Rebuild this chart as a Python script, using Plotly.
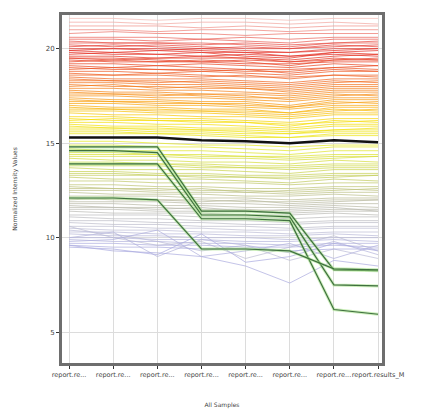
import plotly.graph_objects as go

samples = ["report.re...", "report.re...", "report.re...", "report.re...",
           "report.re...", "report.re...", "report.re...", "report.results_M"]
y_ticks = [5, 10, 15, 20]

top_profiles = [
    [21.6, 21.6, 21.5, 21.6, 21.6, 21.5, 21.6, 21.6],
    [21.4, 21.4, 21.3, 21.4, 21.4, 21.3, 21.4, 21.3],
    [21.2, 21.2, 21.2, 21.1, 21.2, 21.1, 21.2, 21.2],
    [21.0, 21.0, 20.9, 21.0, 21.0, 20.9, 21.0, 21.0],
    [20.8, 20.9, 20.8, 20.8, 20.7, 20.8, 20.8, 20.8],
]
red_profiles = [
    [20.6, 20.6, 20.6, 20.5, 20.6, 20.5, 20.6, 20.6],
    [20.5, 20.5, 20.4, 20.5, 20.4, 20.3, 20.5, 20.5],
    [20.4, 20.3, 20.3, 20.3, 20.2, 20.1, 20.3, 20.3],
    [20.3, 20.3, 20.3, 20.2, 20.3, 20.2, 20.3, 20.4],
    [20.2, 20.1, 20.2, 20.1, 20.0, 20.0, 20.2, 20.1],
    [20.1, 20.2, 20.1, 20.0, 20.1, 20.0, 20.1, 20.2],
    [20.0, 20.0, 19.9, 20.0, 19.9, 19.8, 20.0, 20.0],
    [19.9, 20.0, 20.0, 19.9, 19.8, 19.8, 19.9, 20.0],
    [19.9, 19.8, 19.9, 19.8, 19.8, 19.6, 19.8, 19.9],
    [19.8, 19.7, 19.7, 19.6, 19.7, 19.6, 19.7, 19.6],
    [19.7, 19.8, 19.7, 19.8, 19.6, 19.5, 19.8, 19.7],
    [19.6, 19.6, 19.5, 19.6, 19.5, 19.4, 19.6, 19.7],
    [19.5, 19.4, 19.5, 19.5, 19.5, 19.3, 19.4, 19.5],
    [19.5, 19.5, 19.4, 19.3, 19.4, 19.3, 19.5, 19.4],
    [19.4, 19.3, 19.3, 19.3, 19.2, 19.2, 19.3, 19.3],
    [19.3, 19.4, 19.3, 19.4, 19.3, 19.1, 19.4, 19.4],
    [19.2, 19.2, 19.1, 19.2, 19.1, 19.0, 19.2, 19.1],
    [19.1, 19.0, 19.1, 19.0, 18.9, 18.9, 19.0, 19.1],
    [19.0, 18.9, 18.9, 18.8, 18.9, 18.7, 18.9, 18.8],
    [18.9, 19.0, 18.9, 18.9, 18.8, 18.8, 19.0, 18.9],
    [18.8, 18.8, 18.7, 18.8, 18.7, 18.6, 18.8, 18.8],
    [18.7, 18.6, 18.7, 18.6, 18.5, 18.5, 18.6, 18.6],
    [18.6, 18.6, 18.6, 18.5, 18.6, 18.4, 18.6, 18.5],
]
orange_profiles = [
    [18.5, 18.4, 18.4, 18.4, 18.3, 18.2, 18.4, 18.4],
    [18.4, 18.3, 18.2, 18.3, 18.2, 18.1, 18.3, 18.2],
    [18.3, 18.3, 18.3, 18.2, 18.1, 18.0, 18.2, 18.3],
    [18.2, 18.2, 18.1, 18.1, 18.0, 17.9, 18.1, 18.1],
    [18.1, 18.0, 18.0, 17.9, 17.9, 17.8, 18.0, 18.0],
    [18.0, 18.1, 17.9, 18.0, 17.9, 17.7, 17.9, 17.9],
    [17.9, 17.9, 17.8, 17.8, 17.7, 17.6, 17.8, 17.8],
    [17.8, 17.7, 17.7, 17.6, 17.6, 17.5, 17.7, 17.7],
    [17.7, 17.6, 17.5, 17.6, 17.5, 17.3, 17.5, 17.6],
    [17.6, 17.6, 17.6, 17.5, 17.4, 17.4, 17.6, 17.5],
    [17.5, 17.5, 17.4, 17.4, 17.3, 17.2, 17.4, 17.4],
    [17.4, 17.3, 17.3, 17.2, 17.2, 17.0, 17.3, 17.3],
    [17.3, 17.2, 17.1, 17.1, 17.0, 16.9, 17.1, 17.2],
    [17.2, 17.2, 17.2, 17.1, 17.1, 16.9, 17.2, 17.1],
    [17.1, 17.1, 17.0, 17.0, 16.9, 16.8, 17.0, 17.0],
    [17.0, 16.9, 16.9, 16.8, 16.8, 16.6, 16.9, 16.9],
    [16.9, 16.8, 16.7, 16.7, 16.6, 16.5, 16.7, 16.8],
    [16.8, 16.8, 16.8, 16.7, 16.7, 16.6, 16.8, 16.7],
    [16.7, 16.7, 16.6, 16.6, 16.5, 16.4, 16.6, 16.6],
]
yellow_profiles = [
    [16.6, 16.5, 16.5, 16.4, 16.4, 16.3, 16.5, 16.5],
    [16.4, 16.4, 16.3, 16.3, 16.2, 16.1, 16.3, 16.3],
    [16.3, 16.2, 16.2, 16.1, 16.1, 15.9, 16.2, 16.1],
    [16.2, 16.3, 16.2, 16.2, 16.1, 16.0, 16.1, 16.2],
    [16.1, 16.1, 16.0, 16.0, 15.9, 15.8, 16.0, 16.0],
    [16.0, 15.9, 15.9, 15.8, 15.8, 15.7, 15.9, 15.9],
    [15.9, 15.8, 15.8, 15.7, 15.7, 15.6, 15.7, 15.8],
    [15.8, 15.8, 15.7, 15.7, 15.6, 15.5, 15.7, 15.7],
    [15.7, 15.7, 15.6, 15.6, 15.5, 15.5, 15.6, 15.6],
    [15.6, 15.6, 15.5, 15.5, 15.4, 15.3, 15.5, 15.5],
    [15.5, 15.5, 15.5, 15.4, 15.3, 15.3, 15.4, 15.4],
]
lime_profiles = [
    [15.1, 15.1, 15.0, 14.9, 14.9, 14.8, 14.9, 14.9],
    [14.9, 14.9, 14.8, 14.8, 14.7, 14.6, 14.8, 14.8],
    [14.7, 14.6, 14.6, 14.6, 14.5, 14.4, 14.6, 14.6],
    [14.5, 14.5, 14.4, 14.4, 14.3, 14.3, 14.4, 14.4],
    [14.4, 14.4, 14.4, 14.3, 14.3, 14.2, 14.3, 14.3],
    [14.3, 14.3, 14.3, 14.2, 14.2, 14.1, 14.2, 14.3],
    [14.2, 14.1, 14.1, 14.0, 14.0, 13.9, 14.1, 14.0],
    [14.0, 14.0, 13.9, 13.9, 13.8, 13.8, 13.9, 13.9],
    [13.9, 13.9, 13.9, 13.8, 13.7, 13.7, 13.8, 13.8],
    [13.8, 13.8, 13.8, 13.7, 13.7, 13.6, 13.7, 13.7],
    [13.7, 13.6, 13.6, 13.6, 13.5, 13.4, 13.6, 13.6],
    [13.5, 13.5, 13.4, 13.4, 13.3, 13.3, 13.4, 13.4],
    [13.4, 13.4, 13.3, 13.3, 13.2, 13.2, 13.3, 13.3],
    [13.3, 13.3, 13.3, 13.2, 13.2, 13.1, 13.2, 13.3],
    [13.2, 13.1, 13.1, 13.1, 13.0, 12.9, 13.1, 13.0],
    [13.0, 13.0, 12.9, 12.9, 12.9, 12.8, 12.9, 12.9],
]
olive_profiles = [
    [12.8, 12.8, 12.7, 12.7, 12.6, 12.6, 12.7, 12.7],
    [12.7, 12.6, 12.6, 12.5, 12.5, 12.4, 12.5, 12.6],
    [12.6, 12.6, 12.5, 12.6, 12.4, 12.5, 12.6, 12.5],
    [12.5, 12.5, 12.4, 12.4, 12.4, 12.3, 12.4, 12.4],
    [12.4, 12.3, 12.3, 12.3, 12.2, 12.2, 12.3, 12.2],
    [12.2, 12.2, 12.2, 12.1, 12.1, 12.0, 12.1, 12.1],
    [12.1, 12.0, 12.0, 12.0, 11.9, 11.9, 12.0, 12.0],
    [12.0, 12.1, 12.0, 11.9, 12.0, 11.8, 11.9, 12.0],
    [11.9, 11.9, 11.9, 11.8, 11.8, 11.7, 11.8, 11.8],
    [11.8, 11.8, 11.7, 11.7, 11.6, 11.6, 11.7, 11.6],
    [11.7, 11.6, 11.6, 11.5, 11.5, 11.4, 11.5, 11.5],
    [11.6, 11.6, 11.5, 11.6, 11.4, 11.5, 11.6, 11.4],
    [11.5, 11.5, 11.4, 11.4, 11.4, 11.3, 11.4, 11.4],
    [11.4, 11.3, 11.3, 11.3, 11.2, 11.2, 11.3, 11.2],
    [11.2, 11.2, 11.2, 11.1, 11.1, 11.0, 11.1, 11.1],
]
lavender_profiles = [
    [11.1, 11.0, 11.0, 10.9, 10.9, 10.8, 10.9, 10.9],
    [10.9, 10.9, 10.8, 10.8, 10.7, 10.7, 10.8, 10.8],
    [10.8, 10.7, 10.7, 10.6, 10.6, 10.5, 10.6, 10.6],
    [10.6, 10.6, 10.5, 10.5, 10.4, 10.4, 10.5, 10.5],
    [10.6, 10.0, 9.6, 9.8, 8.9, 9.5, 10.1, 9.3],
    [10.5, 10.4, 10.4, 10.3, 10.3, 10.2, 10.3, 10.3],
    [10.4, 10.2, 9.8, 9.3, 9.6, 8.8, 9.4, 8.9],
    [10.3, 10.3, 10.2, 10.2, 10.1, 10.1, 10.2, 10.1],
    [10.2, 10.1, 10.1, 10.0, 10.0, 9.9, 10.0, 10.0],
    [10.0, 10.0, 9.9, 9.9, 9.8, 9.8, 9.9, 9.8],
    [10.0, 10.3, 9.0, 9.9, 9.6, 9.2, 9.8, 9.1],
    [9.9, 9.8, 9.8, 9.7, 9.7, 9.6, 9.7, 9.7],
    [9.8, 9.9, 10.4, 9.0, 9.3, 9.7, 8.9, 9.6],
    [9.7, 9.7, 9.6, 9.6, 9.5, 9.5, 9.6, 9.5],
    [9.6, 9.3, 9.2, 9.0, 8.5, 7.6, 8.8, 8.5],
    [9.6, 9.5, 9.5, 9.4, 9.4, 9.3, 9.4, 9.4],
    [9.5, 9.4, 9.1, 10.2, 8.7, 9.0, 9.7, 9.3],
]
green_profiles = [
    [14.8, 14.8, 14.8, 11.4, 11.4, 11.3, 8.3, 8.25],
    [14.6, 14.6, 14.5, 11.2, 11.2, 11.1, 7.5, 7.45],
    [13.9, 13.9, 13.9, 11.0, 11.0, 10.9, 6.2, 5.95],
    [12.1, 12.1, 12.0, 9.4, 9.4, 9.3, 8.35, 8.3],
]
black_profile = [15.3, 15.3, 15.3, 15.15, 15.1, 15.0, 15.15, 15.05]

# colour ramp (value -> rgb), blue-grey to yellow to red
ramp = [
    (9.0, (160, 160, 230)), (10.5, (190, 190, 215)), (12.0, (185, 185, 160)),
    (13.3, (195, 205, 90)), (15.0, (230, 235, 30)), (16.3, (248, 220, 0)),
    (17.2, (250, 160, 10)), (18.5, (242, 100, 30)), (19.8, (228, 40, 30)),
    (20.9, (238, 120, 110)), (21.7, (246, 195, 190)),
]


def ramp_color(v):
    if v <= ramp[0][0]:
        c = ramp[0][1]
    elif v >= ramp[-1][0]:
        c = ramp[-1][1]
    else:
        for (a, ca), (b, cb) in zip(ramp[:-1], ramp[1:]):
            if a <= v <= b:
                t = (v - a) / (b - a)
                c = tuple(ca[i] + (cb[i] - ca[i]) * t for i in range(3))
                break
    return "rgb(%d,%d,%d)" % tuple(int(round(x)) for x in c)


xs = list(range(len(samples)))
fig = go.Figure()

all_profiles = (lavender_profiles + olive_profiles + lime_profiles + yellow_profiles
                + orange_profiles + red_profiles + top_profiles)
for prof in all_profiles:
    fig.add_trace(go.Scatter(x=xs, y=prof, mode="lines", opacity=0.7,
                             line=dict(color=ramp_color(prof[0]), width=1),
                             hoverinfo="skip", showlegend=False))

for prof in green_profiles:
    fig.add_trace(go.Scatter(x=xs, y=prof, mode="lines",
                             line=dict(color="rgba(160,225,130,0.55)", width=3),
                             hoverinfo="skip", showlegend=False))
    fig.add_trace(go.Scatter(x=xs, y=prof, mode="lines",
                             line=dict(color="#3f6f3f", width=1.2),
                             hoverinfo="skip", showlegend=False))

fig.add_trace(go.Scatter(x=xs, y=black_profile, mode="lines",
                         line=dict(color="#111111", width=2.5),
                         hoverinfo="skip", showlegend=False))

# page body has an 8px margin, so the figure is shrunk and offset accordingly
fig.update_layout(
    width=413, height=406,
    margin=dict(l=54, r=39, t=4, b=51),
    paper_bgcolor="white", plot_bgcolor="white",
    font=dict(family="DejaVu Sans", size=6, color="#444"),
    xaxis=dict(
        range=[-0.16, 7.09], tickmode="array", tickvals=xs, ticktext=samples,
        showgrid=True, gridcolor="#dcdcdc", gridwidth=1, zeroline=False,
        showline=True, linecolor="#6e6e6e", linewidth=3, mirror=True,
        ticks="outside", ticklen=3, tickcolor="#333", tickangle=0,
        tickfont=dict(size=6.5, color="#444"),
        title=dict(text="All Samples", standoff=26, font=dict(size=6, color="#444")),
    ),
    yaxis=dict(
        range=[3.37, 21.78], tickmode="array", tickvals=y_ticks,
        showgrid=True, gridcolor="#dcdcdc", gridwidth=1, zeroline=False,
        showline=True, linecolor="#6e6e6e", linewidth=3, mirror=True,
        ticks="outside", ticklen=3, tickcolor="#333",
        tickfont=dict(size=7, color="#444"),
        title=dict(text="Normalized Intensity Values", standoff=28,
                   font=dict(size=6, color="#444")),
    ),
)

fig.write_html("out.html")
